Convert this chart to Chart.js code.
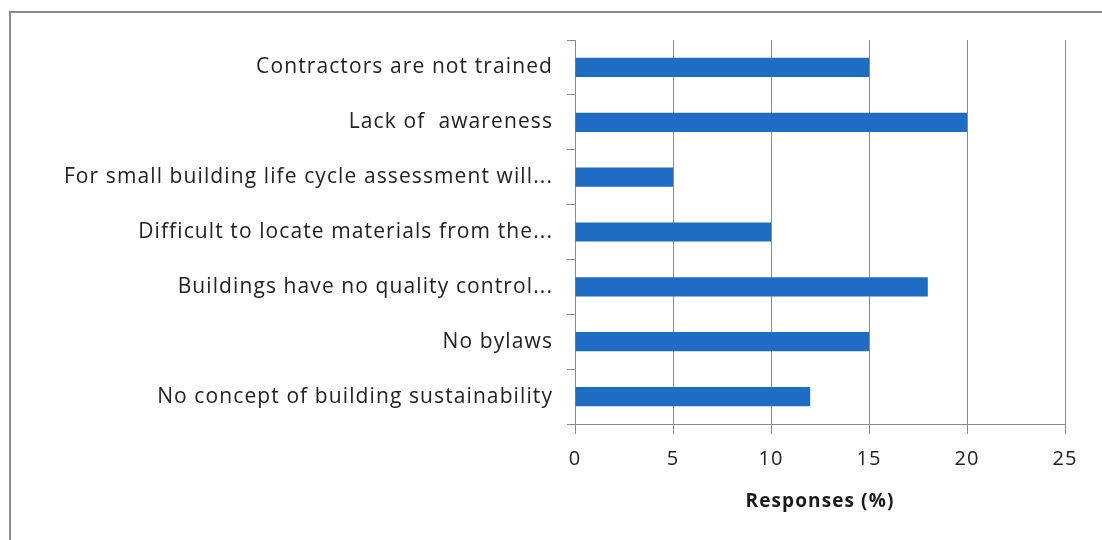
<!DOCTYPE html>
<html>
<head>
<meta charset="utf-8">
<style>
  html, body { margin: 0; padding: 0; background: #ffffff; }
  #wrap { position: relative; width: 1102px; height: 540px; }
</style>
<script src="https://cdn.jsdelivr.net/npm/chart.js@4.4.1/dist/chart.umd.min.js"></script>
</head>
<body>
<div id="wrap"><canvas id="c" width="1102" height="540"></canvas></div>
<script>
const categories = [
  "Contractors are not trained",
  "Lack of  awareness",
  "For small building life cycle assessment will...",
  "Difficult to locate materials from the...",
  "Buildings have no quality control...",
  "No bylaws",
  "No concept of building sustainability"
];
const responses = [15, 20, 5, 10, 18, 15, 12];
const xTicks = [0, 5, 10, 15, 20, 25];
const xTitle = "Responses (%)";

const framePlugin = {
  id: 'frame',
  beforeDraw(chart) {
    const ctx = chart.ctx;
    ctx.letterSpacing = '1.1px';
    ctx.save();
    ctx.fillStyle = '#ffffff';
    ctx.fillRect(0, 0, chart.width, chart.height);
    ctx.strokeStyle = '#8c8c8c';
    ctx.lineWidth = 2;
    ctx.beginPath();
    ctx.moveTo(10, chart.height);
    ctx.lineTo(10, 12);
    ctx.lineTo(chart.width, 12);
    ctx.stroke();
    ctx.restore();
  }
};

new Chart(document.getElementById('c'), {
  type: 'bar',
  data: {
    labels: categories,
    datasets: [{
      data: responses,
      backgroundColor: '#1f6cc4',
      borderColor: '#1f6cc4',
      borderWidth: 0,
      barPercentage: 0.7,
      categoryPercentage: 0.5
    }]
  },
  options: {
    indexAxis: 'y',
    responsive: false,
    animation: false,
    devicePixelRatio: 1,
    layout: { padding: { top: 40, right: 37, bottom: 0, left: 0 } },
    plugins: {
      legend: { display: false },
      tooltip: { enabled: false }
    },
    scales: {
      x: {
        min: 0,
        max: 25,
        afterBuildTicks(scale) { scale.ticks = xTicks.map(v => ({ value: v })); },
        afterFit(scale) { scale.height = 116; },
        border: { display: true, color: '#8a8a8a', width: 1 },
        grid: {
          display: true,
          drawOnChartArea: true,
          drawTicks: true,
          tickLength: 10,
          color: '#8a8a8a',
          lineWidth: 1
        },
        ticks: {
          color: '#222222',
          padding: 13,
          font: { family: 'Open Sans', size: 20 }
        },
        title: {
          display: true,
          text: xTitle,
          color: '#1a1a1a',
          padding: { top: 27, bottom: 27 },
          font: { family: 'Open Sans', size: 19, weight: 'bold' }
        }
      },
      y: {
        afterFit(scale) { scale.width = 575; },
        border: { display: true, color: '#8a8a8a', width: 1 },
        grid: {
          display: true,
          offset: true,
          drawOnChartArea: false,
          drawTicks: true,
          tickLength: 8,
          color: '#8a8a8a'
        },
        ticks: {
          color: '#222222',
          padding: 14,
          font: { family: 'Open Sans', size: 21 }
        }
      }
    }
  },
  plugins: [framePlugin]
});
</script>
</body>
</html>
